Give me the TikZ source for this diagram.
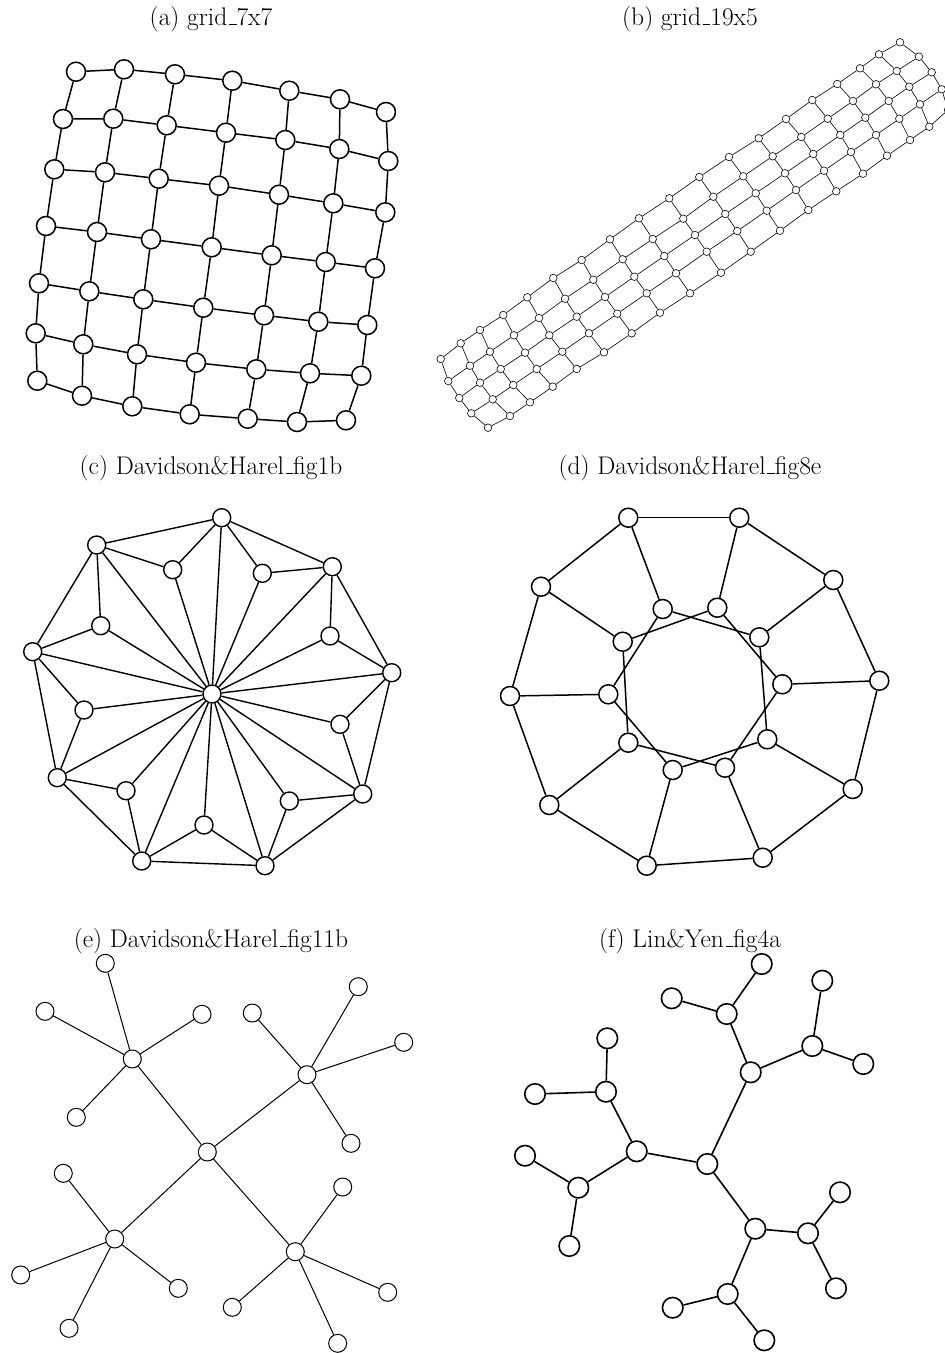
\documentclass[tikz,border=0pt]{standalone}
\newcommand\myus{\leavevmode\kern.06em\vbox{\hrule width.3em height 0.8pt}}
\begin{document}
\begin{tikzpicture}[x=1pt,y=-1pt,
  lbl/.style={font=\fontsize{25.5}{30}\selectfont,anchor=base,inner sep=0pt},
  anode/.style={circle,draw,fill=white,inner sep=0pt,minimum size=19pt,line width=1.5pt},
  aedge/.style={line width=1.5pt},
  bnode/.style={circle,draw,fill=white,inner sep=0pt,minimum size=7.6pt,line width=0.6pt},
  bedge/.style={line width=0.6pt},
  cnode/.style={circle,draw,fill=white,inner sep=0pt,minimum size=18pt,line width=1.4pt},
  cedge/.style={line width=1.4pt},
  dnode/.style={circle,draw,fill=white,inner sep=0pt,minimum size=19pt,line width=1.5pt},
  dedge/.style={line width=1.5pt},
  enode/.style={circle,draw,fill=white,inner sep=0pt,minimum size=18pt,line width=1pt},
  eedge/.style={line width=1pt},
  fnode/.style={circle,draw,fill=white,inner sep=0pt,minimum size=20.5pt,line width=1.6pt},
  fedge/.style={line width=1.6pt}]
\useasboundingbox (0,0) rectangle (945,1353);

% labels
\node[lbl] (la) at (211,25) {(a) grid\myus 7x7};
\node[lbl] (lb) at (690,25) {(b) grid\myus 19x5};
\node[lbl] (lc) at (211,474) {(c) Davidson\&Harel\myus fig1b};
\node[lbl] (ld) at (690,474) {(d) Davidson\&Harel\myus fig8e};
\node[lbl] (le) at (211,947) {(e) Davidson\&Harel\myus fig11b};
\node[lbl] (lf) at (690,947) {(f) Lin\&Yen\myus fig4a};

% ---------- (a) grid 7x7 ----------
\foreach \p [count=\c] in {{76,71.7},{124,69.3},{175,74.3},{232.3,80.7},{289.3,90.7},{340,99.3},{386,112}} \node[anode] (a-1-\c) at (\p) {};
\foreach \p [count=\c] in {{63,119},{113.3,118.7},{166.7,125.3},{226,132.7},{285.3,140},{339.3,149},{388.3,161}} \node[anode] (a-2-\c) at (\p) {};
\foreach \p [count=\c] in {{54.3,169.3},{105,172.3},{158.7,178.7},{219,185.7},{279,194.7},{333.3,203.3},{385.3,212.3}} \node[anode] (a-3-\c) at (\p) {};
\foreach \p [count=\c] in {{46,226},{97,232},{151,239.3},{211.7,247.3},{271.7,255.3},{325.7,262},{375,268.3}} \node[anode] (a-4-\c) at (\p) {};
\foreach \p [count=\c] in {{39,283.3},{89.3,291.3},{143.3,299.3},{203.3,307.7},{264,315.3},{318.3,321.7},{367.3,325}} \node[anode] (a-5-\c) at (\p) {};
\foreach \p [count=\c] in {{35.7,333.3},{83.3,344.3},{137,354.3},{196,362.7},{256.3,369.3},{310,373.3},{361.3,375.7}} \node[anode] (a-6-\c) at (\p) {};
\foreach \p [count=\c] in {{37.3,380.7},{82,395.7},{132.3,406.3},{189.7,414.3},{247.7,418.7},{297,422},{346,420.3}} \node[anode] (a-7-\c) at (\p) {};
\foreach \r in {1,...,7} {
  \foreach \c [evaluate=\c as \n using int(\c+1)] in {1,...,6} {
    \draw[aedge] (a-\r-\c) -- (a-\r-\n);
    \draw[aedge] (a-\c-\r) -- (a-\n-\r);
  }
}

% ---------- (b) grid 19x5 ----------
\foreach \p [count=\r] in {{440.7,359},{448.3,381},{459.3,398},{471.3,413.3},{488,427.7}} \node[bnode] (b-\r-1) at (\p) {};
\foreach \p [count=\r] in {{460.7,343.3},{470,365.7},{480,382.7},{492.7,399.3},{510,416}} \node[bnode] (b-\r-2) at (\p) {};
\foreach \p [count=\r] in {{480,330},{490,351.7},{500.7,369},{513.3,385},{530,402.3}} \node[bnode] (b-\r-3) at (\p) {};
\foreach \p [count=\r] in {{503.3,315},{514,335.3},{525,352.7},{536.7,369},{552.7,386.7}} \node[bnode] (b-\r-4) at (\p) {};
\foreach \p [count=\r] in {{527.3,297.3},{539,318},{549.3,335.3},{562.3,351.7},{576.7,369}} \node[bnode] (b-\r-5) at (\p) {};
\foreach \p [count=\r] in {{553.3,278},{565,298.7},{576.7,316.7},{589,333.3},{604,352.3}} \node[bnode] (b-\r-6) at (\p) {};
\foreach \p [count=\r] in {{581.7,260},{593.3,279.7},{605,297},{617.3,313.7},{631.7,333.3}} \node[bnode] (b-\r-7) at (\p) {};
\foreach \p [count=\r] in {{610,239.3},{622.7,259.3},{634.3,276.7},{646.7,293.3},{660,312.7}} \node[bnode] (b-\r-8) at (\p) {};
\foreach \p [count=\r] in {{639,218.3},{652.7,239},{664.3,256},{676,273.3},{690,293.3}} \node[bnode] (b-\r-9) at (\p) {};
\foreach \p [count=\r] in {{669.3,198.3},{683.3,218.7},{695,235},{706.7,251.7},{721,272.7}} \node[bnode] (b-\r-10) at (\p) {};
\foreach \p [count=\r] in {{699.3,177},{713.3,196.7},{725.3,214},{737.3,231},{750.7,251.7}} \node[bnode] (b-\r-11) at (\p) {};
\foreach \p [count=\r] in {{729,157},{743.3,176.3},{755.7,193.3},{766.7,210.7},{780,230.7}} \node[bnode] (b-\r-12) at (\p) {};
\foreach \p [count=\r] in {{758.7,138.3},{772.7,156.3},{785,173.3},{796,190},{808.3,210}} \node[bnode] (b-\r-13) at (\p) {};
\foreach \p [count=\r] in {{786,119},{801.3,137},{813.3,154},{824,170.7},{836.3,191.3}} \node[bnode] (b-\r-14) at (\p) {};
\foreach \p [count=\r] in {{812.3,100},{827.7,118.7},{840.3,135},{851,152},{863,173.7}} \node[bnode] (b-\r-15) at (\p) {};
\foreach \p [count=\r] in {{837.3,84},{853,101},{865.3,117.7},{876,135},{887,155.7}} \node[bnode] (b-\r-16) at (\p) {};
\foreach \p [count=\r] in {{860,68.3},{876,84.3},{888.7,101},{899.3,118.7},{910,140}} \node[bnode] (b-\r-17) at (\p) {};
\foreach \p [count=\r] in {{879,54.3},{896.7,71},{909.3,86.7},{920,104.3},{929.3,126.7}} \node[bnode] (b-\r-18) at (\p) {};
\foreach \p [count=\r] in {{900,42.3},{919,56.7},{931.7,72.3},{941.7,89.3},{948,110}} \node[bnode] (b-\r-19) at (\p) {};
\foreach \r in {1,...,5} {
  \foreach \c [evaluate=\c as \n using int(\c+1)] in {1,...,18} {
    \draw[bedge] (b-\r-\c) -- (b-\r-\n);
  }
}
\foreach \c in {1,...,19} {
  \foreach \r [evaluate=\r as \n using int(\r+1)] in {1,...,4} {
    \draw[bedge] (b-\r-\c) -- (b-\n-\c);
  }
}

% ---------- (c) Davidson&Harel fig1b ----------
\node[cnode] (c0) at (212,694) {};
\foreach \p [count=\k] in {{221.7,517.7},{96.7,545},{32.7,651.7},{57.3,777.7},{141.7,861},{265,865.7},{362.7,794},{391.7,672.7},{332.3,566.7}} \node[cnode] (co\k) at (\p) {};
\foreach \p [count=\k] in {{172.7,569.7},{100.7,625.7},{84,710},{126,790.7},{204,825},{289.3,801},{340,724.3},{330,636},{262.3,573.3}} \node[cnode] (ci\k) at (\p) {};
\foreach \k [evaluate=\k as \n using {int(mod(\k,9)+1)}] in {1,...,9} {
  \draw[cedge] (co\k) -- (co\n);
  \draw[cedge] (co\k) -- (c0);
  \draw[cedge] (ci\k) -- (c0);
  \draw[cedge] (ci\k) -- (co\k);
  \draw[cedge] (ci\k) -- (co\n);
}

% ---------- (d) Davidson&Harel fig8e ----------
\foreach \p [count=\k] in {{628.3,517.7},{739.3,517.7},{833.3,580},{879.3,680.7},{852.7,789},{762.7,857.7},{646.7,865.7},{549.3,805},{510,696},{541,586.7}} \node[dnode] (do\k) at (\p) {};
\foreach \p [count=\k] in {{662.7,609},{717.3,607.7},{759.3,637.3},{782.3,684.3},{767.3,739.3},{725,767.7},{672.7,770},{628.3,742.7},{608.3,694.3},{622.7,641.7}} \node[dnode] (di\k) at (\p) {};
\foreach \k [evaluate=\k as \n using {int(mod(\k,10)+1)}, evaluate=\k as \m using {int(mod(\k+1,10)+1)}] in {1,...,10} {
  \draw[dedge] (do\k) -- (do\n);
  \draw[dedge] (do\k) -- (di\k);
  \draw[dedge] (di\k) -- (di\m);
}

% ---------- (e) Davidson&Harel fig11b ----------
\node[enode] (e0) at (207.3,1152) {};
\node[enode] (e1) at (132.3,1059) {};
\node[enode] (e2) at (307,1074.7) {};
\node[enode] (e3) at (114.7,1239) {};
\node[enode] (e4) at (295.3,1251.7) {};
\foreach \p [count=\k] in {{105.3,963.3},{45,1011.3},{202,1014.3},{76.3,1117.3}} {\node[enode] (e1\k) at (\p) {}; \draw[eedge] (e1) -- (e1\k);}
\foreach \p [count=\k] in {{252.3,1013},{358.3,986.7},{403.7,1042.3},{351,1143.3}} {\node[enode] (e2\k) at (\p) {}; \draw[eedge] (e2) -- (e2\k);}
\foreach \p [count=\k] in {{63.3,1173.3},{20.7,1275},{69,1328.3},{178.3,1288.3}} {\node[enode] (e3\k) at (\p) {}; \draw[eedge] (e3) -- (e3\k);}
\foreach \p [count=\k] in {{342.7,1187},{387.7,1292.3},{337.7,1343.3},{232.3,1307.3}} {\node[enode] (e4\k) at (\p) {}; \draw[eedge] (e4) -- (e4\k);}
\foreach \k in {1,...,4} \draw[eedge] (e0) -- (e\k);

% ---------- (f) Lin&Yen fig4a ----------
\node[fnode] (f0) at (707.3,1164) {};
\node[fnode] (fa) at (636.7,1151.3) {};
\node[fnode] (fb) at (750.7,1072.3) {};
\node[fnode] (fc) at (755.3,1228.7) {};
\node[fnode] (fa1) at (606,1091.7) {};
\node[fnode] (fa2) at (578.3,1187.7) {};
\node[fnode] (fa11) at (607.3,1038.3) {};
\node[fnode] (fa12) at (535,1094) {};
\node[fnode] (fa21) at (525,1155.7) {};
\node[fnode] (fa22) at (569.3,1246) {};
\node[fnode] (fb1) at (726.7,1014) {};
\node[fnode] (fb2) at (812.3,1046) {};
\node[fnode] (fb11) at (761.7,964) {};
\node[fnode] (fb12) at (671.7,998.3) {};
\node[fnode] (fb21) at (822.3,980.7) {};
\node[fnode] (fb22) at (863.3,1064) {};
\node[fnode] (fc1) at (808,1233.3) {};
\node[fnode] (fc2) at (727.7,1294) {};
\node[fnode] (fc11) at (840,1192.3) {};
\node[fnode] (fc12) at (836,1288.3) {};
\node[fnode] (fc21) at (672.7,1307.7) {};
\node[fnode] (fc22) at (764.3,1340.3) {};
\foreach \x in {a,b,c} {
  \draw[fedge] (f0) -- (f\x);
  \foreach \i in {1,2} {
    \draw[fedge] (f\x) -- (f\x\i);
    \foreach \j in {1,2} \draw[fedge] (f\x\i) -- (f\x\i\j);
  }
}
\end{tikzpicture}
\end{document}
